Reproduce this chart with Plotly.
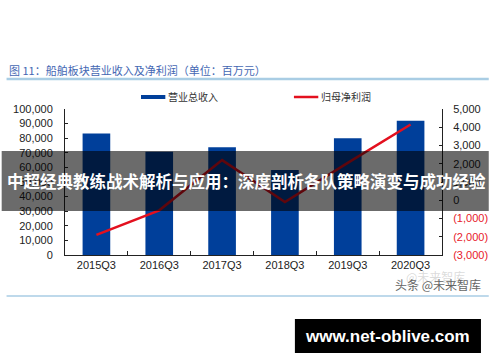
import plotly.graph_objects as go

categories = ["2015Q3", "2016Q3", "2017Q3", "2018Q3", "2019Q3", "2020Q3"]
revenue = [83300, 70800, 73800, 58200, 79900, 92000]
net_profit = [-1900, -550, 2200, -100, 2050, 4150]

left_ticks = [0, 10000, 20000, 30000, 40000, 50000, 60000, 70000, 80000, 90000, 100000]
right_ticks = [-3000, -2000, -1000, 0, 1000, 2000, 3000, 4000, 5000]

def fmt_left(v):
    return "{:,}".format(v)

def fmt_right(v):
    if v < 0:
        return '<span style="color:#e8202a">({:,})</span>'.format(-v)
    return "{:,}".format(v)

W, H = 500, 362
L, R, T, B = 65, 48, 109, 107

fig = go.Figure()
fig.add_trace(go.Bar(x=categories, y=revenue, name="营业总收入",
                     marker=dict(color="#003f9a", line=dict(width=0)),
                     width=0.44, yaxis="y"))
fig.add_trace(go.Scatter(x=categories, y=net_profit, name="归母净利润",
                         mode="lines", line=dict(color="#e3101e", width=2.5),
                         yaxis="y2"))

font = "Liberation Sans, Arial, sans-serif"
cjk = "Noto Sans CJK SC, sans-serif"

pw = W - L - R
ph = H - T - B

def gx(p):
    return (p - L) / pw

def gy(p):
    return (H - B - p) / ph

shapes = []
shapes.append(dict(type="line", xref="paper", yref="paper", x0=gx(5), x1=gx(500),
                   y0=gy(79), y1=gy(79), line=dict(color="#a9cde4", width=2.5)))
shapes.append(dict(type="line", xref="paper", yref="paper", x0=gx(5), x1=gx(500),
                   y0=gy(296), y1=gy(296), line=dict(color="#a9cde4", width=1.5)))
# legend symbols
shapes.append(dict(type="rect", xref="paper", yref="paper", x0=gx(143), x1=gx(168),
                   y0=gy(99), y1=gy(95), fillcolor="#003f9a", line=dict(width=0)))
shapes.append(dict(type="line", xref="paper", yref="paper", x0=gx(300), x1=gx(325),
                   y0=gy(97), y1=gy(97), line=dict(color="#e3101e", width=2.5)))
# dark banner
shapes.append(dict(type="rect", xref="paper", yref="paper", x0=gx(0), x1=gx(500),
                   y0=gy(211), y1=gy(151), fillcolor="rgba(0,0,0,0.58)",
                   line=dict(width=0), layer="above"))
# black url box
shapes.append(dict(type="rect", xref="paper", yref="paper", x0=gx(301), x1=gx(492),
                   y0=gy(353), y1=gy(319), fillcolor="#000000",
                   line=dict(width=0), layer="above"))

annotations = [
    dict(text="图 11：船舶板块营业收入及净利润（单位：百万元）", xref="paper", yref="paper",
         x=gx(5), y=gy(70), xanchor="left", yanchor="middle", showarrow=False,
         font=dict(family=cjk, size=11, color="#4467b3")),
    dict(text="营业总收入", xref="paper", yref="paper", x=gx(169), y=gy(97),
         xanchor="left", yanchor="middle", showarrow=False,
         font=dict(family=cjk, size=10, color="#333333")),
    dict(text="归母净利润", xref="paper", yref="paper", x=gx(326), y=gy(97),
         xanchor="left", yanchor="middle", showarrow=False,
         font=dict(family=cjk, size=10, color="#333333")),
    dict(text="<b>中超经典教练战术解析与应用：深度剖析各队策略演变与成功经验</b>",
         xref="paper", yref="paper", x=gx(251), y=gy(181), xanchor="center",
         yanchor="middle", showarrow=False,
         font=dict(family=cjk, size=16.5, color="#ffffff")),
    dict(text="<b>www.net-oblive.com</b>", xref="paper", yref="paper", x=gx(396),
         y=gy(336), xanchor="center", yanchor="middle", showarrow=False,
         font=dict(family=font, size=17, color="#ffffff")),
    dict(text="@未来智库", xref="paper", yref="paper", x=gx(478), y=gy(276),
         xanchor="right", yanchor="middle", showarrow=False,
         font=dict(family=cjk, size=12, color="rgba(150,150,150,0.35)")),
    dict(text="头条 @未来智库", xref="paper", yref="paper", x=gx(494), y=gy(284),
         xanchor="right", yanchor="middle", showarrow=False,
         font=dict(family=cjk, size=12, color="#666666")),
]

fig.update_layout(
    width=W, height=H,
    margin=dict(l=L, r=R, t=T, b=B, pad=0),
    paper_bgcolor="white", plot_bgcolor="white",
    showlegend=False,
    bargap=0.56,
    font=dict(family=font, size=11, color="#222222"),
    xaxis=dict(type="category", showline=True, linecolor="#222222", linewidth=1,
               ticks="inside", tickson="boundaries", ticklen=4, tickcolor="#222222",
               showgrid=False, tickfont=dict(size=11, color="#222222"),
               range=[-0.5, 5.5]),
    yaxis=dict(range=[0, 100000], tickvals=left_ticks,
               ticktext=[fmt_left(v) for v in left_ticks],
               showline=True, linecolor="#222222", linewidth=1,
               ticks="inside", ticklen=3, tickcolor="#222222",
               showgrid=False, zeroline=False, ticklabelstandoff=9,
               tickfont=dict(size=11, color="#222222")),
    yaxis2=dict(range=[-3000, 5000], tickvals=right_ticks,
                ticktext=[fmt_right(v) for v in right_ticks],
                overlaying="y", side="right",
                showline=True, linecolor="#222222", linewidth=1,
                ticks="inside", ticklen=3, tickcolor="#222222",
                showgrid=False, zeroline=False, ticklabelstandoff=8,
                tickfont=dict(size=11, color="#222222")),
    shapes=shapes,
    annotations=annotations,
)

fig.write_html("out.html",
               config={"displayModeBar": False},
               post_script="document.body.style.margin='0';document.body.style.overflow='hidden';")
